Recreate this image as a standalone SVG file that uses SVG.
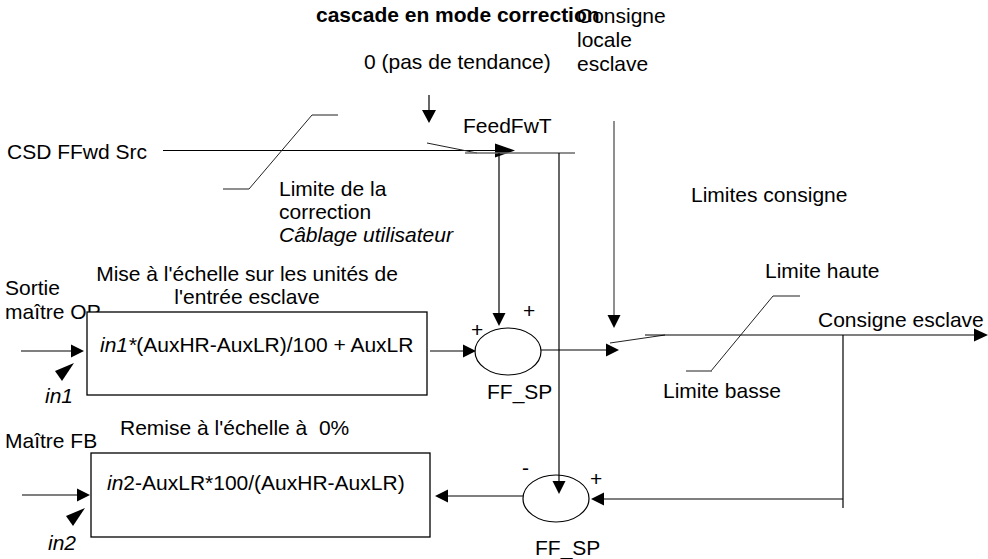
<svg xmlns="http://www.w3.org/2000/svg" width="988" height="559" viewBox="0 0 988 559">
<defs>
<style>
text{font-family:"Liberation Sans",Arial,sans-serif;font-size:21px;fill:#000}
.b{font-weight:bold}
.i{font-style:italic}
.ln{stroke:#000;stroke-width:1.2;fill:none}
.gr{stroke:#6a6a6a;stroke-width:1.5;fill:none}
.th{stroke:#222;stroke-width:1;fill:none}
.box{fill:#fff;stroke:#000;stroke-width:1.3}
.ah{fill:#000}
</style>
</defs>
<rect width="988" height="559" fill="#fff"/>

<g id="connectors">
<!-- top small arrow -->
<line class="ln" x1="429" y1="95" x2="429" y2="112"/>
<polygon class="ah" points="422,110 436,110 429,123"/>
<!-- CSD FFwd Src line -->
<line class="ln" x1="163" y1="150.5" x2="500" y2="150.5"/>
<polygon class="ah" points="495,143.5 515,150.5 495,157.5"/>
<!-- switch 1 -->
<line class="th" x1="427" y1="143" x2="477" y2="153"/>
<line class="gr" x1="465" y1="153" x2="575" y2="153"/>
<!-- verticals -->
<line class="ln" x1="499" y1="153" x2="499" y2="314"/>
<polygon class="ah" points="492.5,313 505.5,313 499,326"/>
<line class="ln" x1="559" y1="153" x2="559" y2="482"/>
<polygon class="ah" points="552.5,481 565.5,481 559,494"/>
<!-- consigne locale arrow -->
<line class="gr" x1="614" y1="121" x2="614" y2="316"/>
<polygon class="ah" points="607.5,315 620.5,315 614,328"/>
<!-- limiter 1 -->
<line class="gr" x1="312" y1="115" x2="338" y2="115"/>
<line class="th" x1="312" y1="115" x2="249" y2="189"/>
<line class="gr" x1="223" y1="189" x2="249" y2="189"/>
<!-- input arrows -->
<line class="ln" x1="21" y1="351" x2="72" y2="351"/>
<polygon class="ah" points="71,344.5 84,351 71,357.5"/>
<polygon class="ah" points="74,363 55,371 62,381"/>
<line class="ln" x1="22" y1="495" x2="78" y2="495"/>
<polygon class="ah" points="77,488.5 90,495 77,501.5"/>
<polygon class="ah" points="85,508 66,516 73,526"/>
<!-- box1 -> ellipse -->
<line class="ln" x1="430" y1="351" x2="465" y2="351"/>
<polygon class="ah" points="463,344.5 476,351 463,357.5"/>
<!-- ellipse -> switch 2 -->
<line class="ln" x1="541" y1="350" x2="608" y2="350"/>
<polygon class="ah" points="606,343.5 619,350 606,356.5"/>
<!-- switch 2 -->
<line class="th" x1="610" y1="343" x2="665" y2="335"/>
<!-- output -->
<line class="ln" x1="645" y1="335" x2="976" y2="335"/>
<polygon class="ah" points="974,328.5 988,335 974,341.5"/>
<!-- limiter 2 -->
<line class="gr" x1="773" y1="296" x2="800" y2="296"/>
<line class="th" x1="773" y1="296" x2="711" y2="371"/>
<line class="gr" x1="686" y1="371" x2="712" y2="371"/>
<!-- feedback -->
<line class="ln" x1="843" y1="335" x2="843" y2="508"/>
<line class="ln" x1="843" y1="499" x2="602" y2="499"/>
<polygon class="ah" points="604,492.5 591,499 604,505.5"/>
<!-- bottom ellipse -> box2 -->
<line class="ln" x1="523" y1="496" x2="446" y2="496"/>
<polygon class="ah" points="448,489.5 435,496 448,502.5"/>
</g>

<g id="title"><text class="b" x="316" y="22">cascade en mode correction</text></g>
<g id="consigne-locale"><text x="577" y="23">Consigne</text><text x="577" y="47">locale</text><text x="577" y="71">esclave</text></g>
<g id="zero"><text x="364" y="69">0 (pas de tendance)</text></g>
<g id="feedfwt"><text x="463" y="133">FeedFwT</text></g>
<g id="csd"><text x="7" y="159">CSD FFwd Src</text></g>
<g id="limite-correction"><text x="279" y="196">Limite de la</text><text x="279" y="219">correction</text><text class="i" x="279" y="242">Câblage utilisateur</text></g>
<g id="limites-consigne"><text x="691" y="202">Limites consigne</text></g>
<g id="limite-haute"><text x="765" y="278">Limite haute</text></g>
<g id="consigne-esclave"><text x="818" y="327">Consigne esclave</text></g>
<g id="limite-basse"><text x="663" y="398">Limite basse</text></g>
<g id="sortie"><text x="5" y="295">Sortie</text><text x="5" y="319">maître OP</text></g>
<g id="mise-label"><text x="247" y="281" text-anchor="middle">Mise à l'échelle sur les unités de</text><text x="247" y="304" text-anchor="middle">l'entrée esclave</text></g>

<g id="box1">
<rect class="box" x="87" y="312" width="340" height="83"/>
<text x="100" y="352"><tspan class="i">in1*</tspan>(AuxHR-AuxLR)/100 + AuxLR</text>
</g>
<g id="in1"><text class="i" x="45" y="403">in1</text></g>

<g id="sum1">
<ellipse cx="508" cy="351.5" rx="33" ry="23.5" fill="none" stroke="#000" stroke-width="1.2"/>
<text x="471" y="337">+</text>
<text x="523" y="318">+</text>
<text x="487" y="399">FF_SP</text>
</g>

<g id="maitre-fb"><text x="5" y="448">Maître FB</text></g>
<g id="remise-label"><text x="120" y="435" xml:space="preserve">Remise à l'échelle à  0%</text></g>

<g id="box2">
<rect class="box" x="91" y="453" width="339" height="84"/>
<text x="107" y="490"><tspan class="i">in</tspan>2-AuxLR*100/(AuxHR-AuxLR)</text>
</g>
<g id="in2"><text class="i" x="48" y="550">in2</text></g>

<g id="sum2">
<ellipse cx="556" cy="498.5" rx="33" ry="23.5" fill="none" stroke="#000" stroke-width="1.2"/>
<text x="522" y="475">-</text>
<text x="590" y="486">+</text>
<text x="535" y="555">FF_SP</text>
</g>
</svg>
